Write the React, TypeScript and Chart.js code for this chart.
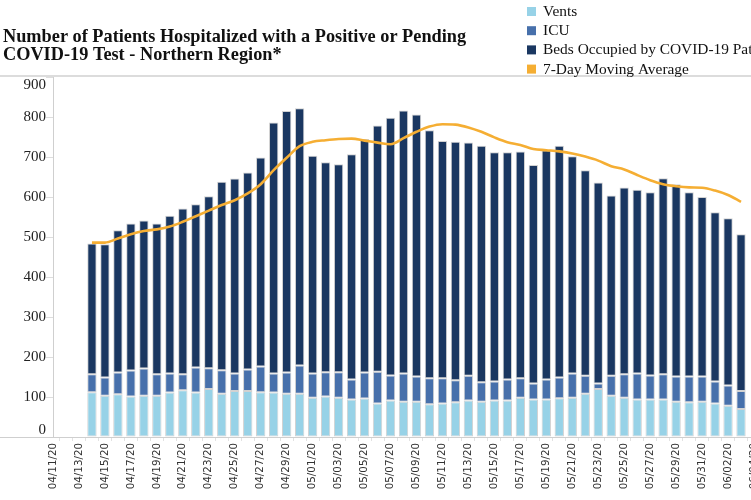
import React, { useEffect, useRef } from "react";
import { Chart, registerables } from "chart.js";

Chart.register(...registerables);

const dateLabels = [
  "04/11/20", "04/12/20", "04/13/20", "04/14/20", "04/15/20", "04/16/20", "04/17/20", "04/18/20", "04/19/20", "04/20/20",
  "04/21/20", "04/22/20", "04/23/20", "04/24/20", "04/25/20", "04/26/20", "04/27/20", "04/28/20", "04/29/20", "04/30/20",
  "05/01/20", "05/02/20", "05/03/20", "05/04/20", "05/05/20", "05/06/20", "05/07/20", "05/08/20", "05/09/20", "05/10/20",
  "05/11/20", "05/12/20", "05/13/20", "05/14/20", "05/15/20", "05/16/20", "05/17/20", "05/18/20", "05/19/20", "05/20/20",
  "05/21/20", "05/22/20", "05/23/20", "05/24/20", "05/25/20", "05/26/20", "05/27/20", "05/28/20", "05/29/20", "05/30/20",
  "05/31/20", "06/01/20", "06/02/20", "06/03/20", "06/04/20",
];

// data runs 04/14/20 .. 06/03/20
const leadingEmpty = 3;
const trailingEmpty = 1;

const vents = [
  112, 103, 107, 101, 103, 103, 111, 117, 111, 120,
  108, 115, 115, 112, 111, 108, 108, 98, 101, 98,
  94, 96, 84, 91, 88, 88, 82, 84, 87, 91,
  88, 91, 91, 98, 94, 94, 97, 98, 108, 120,
  103, 98, 94, 94, 94, 88, 87, 88, 84, 78, 70,
];

const icu = [
  45, 46, 54, 65, 68, 54, 48, 40, 63, 52,
  59, 44, 54, 64, 48, 53, 71, 61, 61, 64,
  50, 65, 79, 63, 71, 63, 65, 63, 55, 62,
  49, 48, 53, 49, 40, 50, 52, 61, 45, 14,
  50, 59, 65, 60, 63, 63, 64, 63, 55, 51, 45,
];

const beds = [
  327, 333, 356, 368, 370, 377, 394, 414, 408, 430,
  471, 487, 492, 523, 627, 654, 643, 544, 525, 520,
  563, 584, 616, 644, 657, 655, 620, 593, 596, 583,
  591, 573, 568, 567, 546, 573, 579, 543, 514, 502,
  451, 467, 459, 458, 490, 481, 461, 449, 423, 418, 392,
];

const movingAvg = [
  486, 486, 496, 507, 515, 519, 526, 538, 552, 566,
  580, 592, 609, 632, 667, 698, 727, 738, 742, 745,
  746, 741, 736, 732, 747, 763, 776, 782, 781, 774,
  763, 749, 737, 730, 720, 717, 714, 709, 701, 691,
  677, 669, 655, 642, 632, 627, 624, 623, 616, 605, 588,
];

const yTicks = [0, 100, 200, 300, 400, 500, 600, 700, 800, 900];

const titleLines = [
  "Number of Patients Hospitalized with a Positive or Pending",
  "COVID-19 Test - Northern Region*",
];

const COLORS = {
  vents: "#97D2E7",
  icu: "#4770AB",
  beds: "#1A3761",
  avg: "#F5AE33",
};

const pad = (arr: number[]) => [
  ...Array(leadingEmpty).fill(null),
  ...arr,
  ...Array(trailingEmpty).fill(null),
];

const CANVAS_W = 770;
const CANVAS_H = 500;

const decorPlugin = {
  id: "decor",
  afterDraw(chart: any) {
    const ctx = chart.ctx;
    const area = chart.chartArea;
    ctx.save();
    // top separator
    ctx.strokeStyle = "#dcdcdc";
    ctx.lineWidth = 2;
    ctx.beginPath();
    ctx.moveTo(0, area.top - 1);
    ctx.lineTo(CANVAS_W, area.top - 1);
    ctx.stroke();
    // bottom axis across full width
    ctx.strokeStyle = "#cfcfcf";
    ctx.lineWidth = 1;
    ctx.beginPath();
    ctx.moveTo(0, area.bottom + 0.5);
    ctx.lineTo(CANVAS_W, area.bottom + 0.5);
    ctx.stroke();

    // y labels (clamped inside the plot like the source)
    const ys = chart.scales.y;
    ctx.fillStyle = "#222";
    ctx.font = '15px "Liberation Serif"';
    ctx.textAlign = "right";
    ctx.textBaseline = "middle";
    ys.ticks.forEach((t: any) => {
      let py = ys.getPixelForValue(t.value);
      py = Math.max(area.top + 8, Math.min(area.bottom - 7, py));
      ctx.fillText(String(t.value), area.left - 7, py);
    });

    // title
    ctx.textAlign = "left";
    ctx.fillStyle = "#111";
    ctx.font = 'bold 18.3px "Liberation Serif"';
    titleLines.forEach((line, i) => {
      ctx.fillText(line, 3, 37 + i * 18.5);
    });

    // legend
    ctx.font = '15.4px "Liberation Serif"';
    const items = chart.data.datasets
      .map((d: any) => ({ label: d.label, color: d.legendColor, order: d.legendOrder }))
      .sort((a: any, b: any) => a.order - b.order);
    items.forEach((it: any, i: number) => {
      const cy = 11.5 + i * 19.2;
      ctx.fillStyle = it.color;
      ctx.fillRect(527, cy - 4.5, 9, 9);
      ctx.fillStyle = "#111";
      ctx.fillText(it.label, 543, cy + 0.5);
    });
    ctx.restore();
  },
};

export default function App() {
  const canvasRef = useRef<HTMLCanvasElement | null>(null);

  useEffect(() => {
    if (!canvasRef.current) return;
    const barCommon = {
      type: "bar" as const,
      stack: "hosp",
      borderColor: "#d2d2d2",
      borderWidth: 1,
      borderSkipped: false,
      barPercentage: 0.72,
      categoryPercentage: 1,
      order: 1,
    };
    const chart = new Chart(canvasRef.current, {
      type: "bar",
      data: {
        labels: dateLabels,
        datasets: [
          {
            ...barCommon,
            label: "Vents",
            data: pad(vents),
            backgroundColor: COLORS.vents,
            legendColor: COLORS.vents,
            legendOrder: 0,
          } as any,
          {
            ...barCommon,
            label: "ICU",
            data: pad(icu),
            backgroundColor: COLORS.icu,
            legendColor: COLORS.icu,
            legendOrder: 1,
          } as any,
          {
            ...barCommon,
            label: "Beds Occupied by COVID-19 Patients",
            data: pad(beds),
            backgroundColor: COLORS.beds,
            legendColor: COLORS.beds,
            legendOrder: 2,
          } as any,
          {
            type: "line",
            label: "7-Day Moving Average",
            stack: "avg",
            data: pad(movingAvg),
            borderColor: COLORS.avg,
            backgroundColor: COLORS.avg,
            borderWidth: 2.6,
            pointRadius: 0,
            cubicInterpolationMode: "monotone",
            fill: false,
            order: 0,
            legendColor: COLORS.avg,
            legendOrder: 3,
          } as any,
        ],
      },
      options: {
        responsive: false,
        animation: false,
        layout: { padding: { top: 77, right: 16, left: 0, bottom: 0 } },
        plugins: {
          legend: { display: false },
          title: { display: false },
          tooltip: { enabled: false },
        },
        scales: {
          x: {
            stacked: true,
            offset: false,
            grid: {
              display: true,
              drawOnChartArea: false,
              drawTicks: true,
              tickLength: 4,
              color: "#e2e2e2",
            },
            border: { display: true, color: "#cfcfcf" },
            ticks: {
              autoSkip: false,
              minRotation: 90,
              maxRotation: 90,
              padding: 2,
              color: "#333",
              font: { family: '"DejaVu Sans"', size: 10.3 },
              callback: (_v: any, i: number) => (i % 2 === 0 ? dateLabels[i] : ""),
            },
            afterFit: (s: any) => {
              s.height = 63;
            },
          },
          y: {
            stacked: true,
            min: 0,
            max: 900,
            afterBuildTicks: (s: any) => {
              s.ticks = yTicks.map((v) => ({ value: v }));
            },
            grid: {
              display: true,
              drawOnChartArea: false,
              drawTicks: true,
              tickLength: 7,
              color: "#dddddd",
            },
            border: { display: true, color: "#cfcfcf" },
            ticks: { display: false },
            afterFit: (s: any) => {
              s.width = 53;
            },
          },
        },
      },
      plugins: [decorPlugin],
    } as any);
    return () => chart.destroy();
  }, []);

  return (
    <div
      style={{
        position: "fixed",
        left: 0,
        top: 0,
        width: 751,
        height: 500,
        overflow: "hidden",
        background: "#fff",
      }}
    >
      <canvas
        ref={canvasRef}
        width={CANVAS_W}
        height={CANVAS_H}
        style={{ display: "block", width: CANVAS_W, height: CANVAS_H }}
      />
    </div>
  );
}
